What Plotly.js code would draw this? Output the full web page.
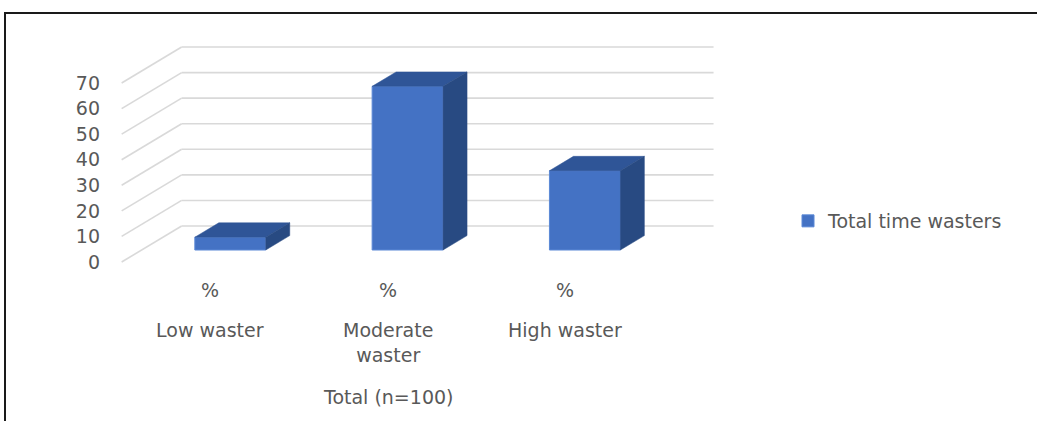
<!DOCTYPE html>
<html>
<head>
<meta charset="utf-8">
<script src="https://cdn.plot.ly/plotly-3.0.1.min.js"></script>
<style>
  html, body { margin: 0; padding: 0; background: #fff; overflow: hidden; }
  #wrap { position: relative; width: 1037px; height: 421px; }
  #chart { position: absolute; left: 0; top: 0; width: 1037px; height: 421px; }
  #frame { position: absolute; left: 4px; top: 12px; width: 1100px; height: 500px;
           border: 2px solid #1a1a1a; pointer-events: none; box-sizing: border-box; }
</style>
</head>
<body>
<div id="wrap">
  <div id="chart"></div>
  <div id="frame"></div>
</div>
<script>
// ---- data ----
const categories = ['Low waster', 'Moderate waster', 'High waster'];
const unitLabels = ['%', '%', '%'];
const values = [5, 64, 31];
const yTicks = [0, 10, 20, 30, 40, 50, 60, 70];
const seriesName = 'Total time wasters';
const groupTitle = 'Total (n=100)';

// ---- layout geometry ----
const W = 1037, H = 421;
const M = { l: 101, r: 257, t: 40, b: 151 };
const PX_PER_CAT = 177.3;   // horizontal pixels between category slots
const CAT0_PX = 210.3;      // pixel x of the first slot on the front plane
const PX_PER_UNIT = 2.557;  // vertical pixels per value unit
const ZERO_PX = 262;        // pixel y of value 0 on the front plane

const plotW = W - M.l - M.r, plotH = H - M.t - M.b;
const xRange = [(M.l - CAT0_PX) / PX_PER_CAT, (W - M.r - CAT0_PX) / PX_PER_CAT];
const yRange = [(ZERO_PX - (H - M.b)) / PX_PER_UNIT, (ZERO_PX - M.t) / PX_PER_UNIT];
const paperY = px => ((H - M.b) - px) / plotH;

// oblique depth: full depth shifts 60px right and 36px up
const DX = 60 / PX_PER_CAT;
const DY = 36 / PX_PER_UNIT;
const proj = (x, y, d) => [x + d * DX, y + d * DY];

// box geometry (in category units / depth fraction)
const HALF_W = 0.2;
const D_FRONT = 1 / 3;
const D_BACK = D_FRONT + 0.4;

const FRONT = '#4472C4', TOP = '#2F5597', SIDE = '#284A82';
const GRID = '#d9d9d9', TEXT = '#595959';
const FONT = 'DejaVu Sans, Open Sans, sans-serif';
const FS = 19;

// ---- walls: back-wall gridlines and side-wall diagonals (drawn beneath the boxes) ----
const shapes = [];
const xL = -0.5, xR = categories.length - 0.5;
yTicks.forEach(v => {
  const a = proj(xL, v, 1), b = proj(xR, v, 1), f = proj(xL, v, 0);
  shapes.push({ type: 'line', xref: 'x', yref: 'y', layer: 'below',
                x0: a[0], y0: a[1], x1: b[0], y1: b[1],
                line: { color: GRID, width: 1.6 } });
  shapes.push({ type: 'line', xref: 'x', yref: 'y', layer: 'below',
                x0: f[0], y0: f[1], x1: a[0], y1: a[1],
                line: { color: GRID, width: 1.6 } });
});

const traces = [];

// top and side faces of each box
values.forEach((v, i) => {
  const pts = (corners) => {
    const c = corners.map(p => proj(p[0], p[1], p[2]));
    c.push(c[0]);
    return { x: c.map(p => p[0]), y: c.map(p => p[1]) };
  };
  const top = pts([[i - HALF_W, v, D_FRONT], [i + HALF_W, v, D_FRONT],
                   [i + HALF_W, v, D_BACK], [i - HALF_W, v, D_BACK]]);
  const side = pts([[i + HALF_W, 0, D_FRONT], [i + HALF_W, v, D_FRONT],
                    [i + HALF_W, v, D_BACK], [i + HALF_W, 0, D_BACK]]);
  traces.push({
    type: 'scatter', mode: 'lines', x: top.x, y: top.y, fill: 'toself',
    fillcolor: TOP, line: { color: TOP, width: 0.5 }, hoverinfo: 'skip', showlegend: false
  });
  traces.push({
    type: 'scatter', mode: 'lines', x: side.x, y: side.y, fill: 'toself',
    fillcolor: SIDE, line: { color: SIDE, width: 0.5 }, hoverinfo: 'skip', showlegend: false
  });
});

// front faces as real bars, lifted to the box's depth
traces.push({
  type: 'bar', name: seriesName,
  x: values.map((v, i) => proj(i, 0, D_FRONT)[0]),
  y: values,
  base: values.map(() => proj(0, 0, D_FRONT)[1]),
  width: HALF_W * 2,
  marker: { color: FRONT, line: { color: '#5b88d6', width: 1 } },
  hoverinfo: 'y'
});

// category labels under the axis
const txt = { family: FONT, size: FS, color: TEXT };
const annotations = [];
categories.forEach((c, i) => {
  annotations.push({
    x: i, y: paperY(290), xref: 'x', yref: 'paper',
    text: unitLabels[i], showarrow: false, font: txt,
    xanchor: 'center', yanchor: 'middle'
  });
  annotations.push({
    x: i, y: paperY(317), xref: 'x', yref: 'paper',
    text: c.replace('Moderate ', 'Moderate<br>'), showarrow: false, font: txt,
    xanchor: 'center', yanchor: 'top', align: 'center'
  });
});
annotations.push({
  x: 1, y: paperY(397), xref: 'x', yref: 'paper',
  text: groupTitle, showarrow: false, font: txt,
  xanchor: 'center', yanchor: 'middle'
});

const layout = {
  width: W, height: H,
  margin: M,
  paper_bgcolor: '#fff', plot_bgcolor: 'rgba(0,0,0,0)',
  font: txt,
  xaxis: { range: xRange, showgrid: false, zeroline: false, showline: false,
           showticklabels: false, ticks: '', fixedrange: true },
  yaxis: { range: yRange, showgrid: false, zeroline: false, showline: false,
           tickvals: yTicks, ticks: '', fixedrange: true, tickfont: txt },
  showlegend: true,
  legend: {
    x: (788 - M.l) / plotW, y: paperY(221),
    xanchor: 'left', yanchor: 'middle',
    font: txt, bgcolor: 'rgba(0,0,0,0)'
  },
  shapes: shapes,
  annotations: annotations,
  bargap: 0
};

Plotly.newPlot('chart', traces, layout, { displayModeBar: false, staticPlot: true });
</script>
</body>
</html>
